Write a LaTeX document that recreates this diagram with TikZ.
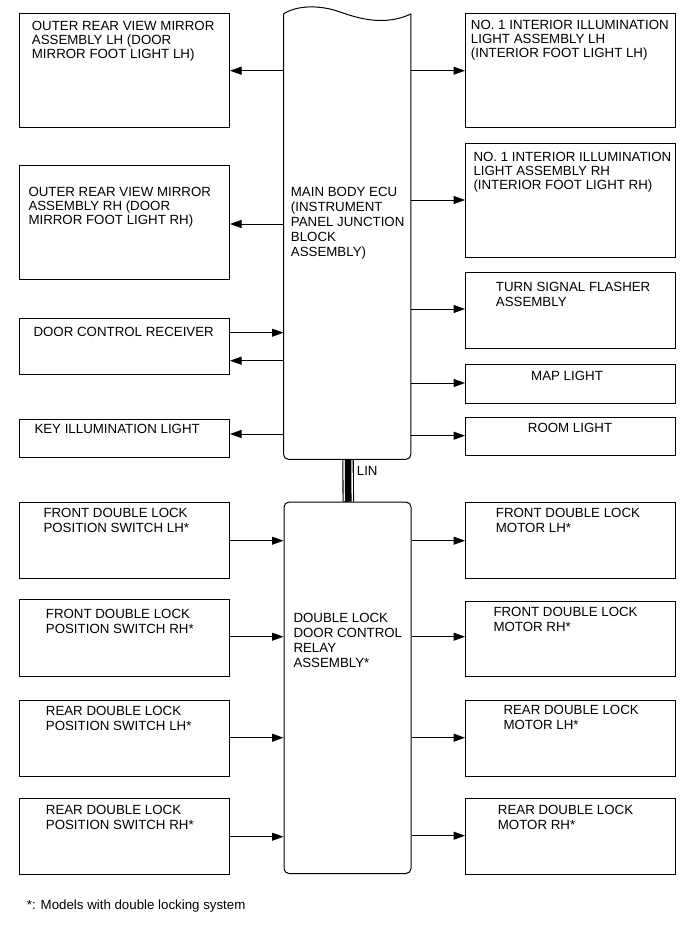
\documentclass[tikz,border=0pt]{standalone}
\usepackage{fontspec}
\setmainfont{Liberation Sans}
\usetikzlibrary{arrows.meta}
\begin{document}
\begin{tikzpicture}[x=1pt,y=-1pt,
  box/.style={draw, line width=1pt, inner sep=0pt, anchor=north west, minimum width=210pt},
  txt/.style={anchor=north west, inner sep=0pt, align=left, font=\fontsize{13.3}{15}\selectfont},
  txtb/.style={txt, font=\fontsize{13.3}{14}\selectfont},
  arr/.style={line width=1pt, -{Triangle[length=11.5pt,width=8pt]}}
]
\useasboundingbox (0,0) rectangle (690,952);

% LIN bus (drawn first so borders stay on top)
\node[inner sep=0pt, minimum width=127pt, minimum height=445pt, anchor=north west] (ecu) at (283.5,14) {};
\node[draw, line width=1pt, rounded corners=5pt, inner sep=0pt, minimum width=127pt, minimum height=371.5pt, anchor=north west] (dldc) at (283.5,501.5) {};
\draw[line width=11.5pt] ([xshift=0.8pt]ecu.south) -- ([xshift=0.8pt]dldc.north);
\draw[line width=9.3pt, white] ([xshift=0.8pt,yshift=-0.6pt]ecu.south) -- ([xshift=0.8pt,yshift=0.6pt]dldc.north);
\draw[line width=6.5pt] ([xshift=0.8pt]ecu.south) -- ([xshift=0.8pt]dldc.north);
\node[txt] (lin) at (356.7,466.5) {LIN};

% main body ECU outline
\draw[line width=1pt, line cap=round] (ecu.north west) .. controls (295,6) and (318,4) .. (340,12) .. controls (360,19) and (385,26) .. (ecu.north east);
\draw[line width=1pt, rounded corners=5pt] (ecu.north east) -- (ecu.south east) -- (ecu.south west) -- (ecu.north west);
\node[txt] (ecut) at (290.7,187.2) {MAIN BODY ECU\\(INSTRUMENT\\PANEL JUNCTION\\BLOCK\\ASSEMBLY)};
\node[txt] (dldct) at (293.3,613.2) {DOUBLE LOCK\\DOOR CONTROL\\RELAY\\ASSEMBLY*};

% left boxes (upper)
\node[box, minimum height=114pt] (l1) at (19,13.3) {};
\node[txtb] (l1t) at (31.7,21) {OUTER REAR VIEW MIRROR\\ASSEMBLY LH (DOOR\\MIRROR FOOT LIGHT LH)};
\node[box, minimum height=114pt] (l2) at (19,165) {};
\node[txtb] (l2t) at (28.3,187) {OUTER REAR VIEW MIRROR\\ASSEMBLY RH (DOOR\\MIRROR FOOT LIGHT RH)};
\node[box, minimum height=56.3pt] (l3) at (19,317.7) {};
\node[txt] (l3t) at (33.3,326.7) {DOOR CONTROL RECEIVER};
\node[box, minimum height=38pt] (l4) at (19,418.7) {};
\node[txt] (l4t) at (34.3,424) {KEY ILLUMINATION LIGHT};

% right boxes (upper)
\node[box, minimum height=114pt] (r1) at (465,13.3) {};
\node[txtb] (r1t) at (470.7,20) {NO. 1 INTERIOR ILLUMINATION\\LIGHT ASSEMBLY LH\\(INTERIOR FOOT LIGHT LH)};
\node[box, minimum height=114pt] (r2) at (465,142.7) {};
\node[txtb] (r2t) at (473.3,151.7) {NO. 1 INTERIOR ILLUMINATION\\LIGHT ASSEMBLY RH\\(INTERIOR FOOT LIGHT RH)};
\node[box, minimum height=76.3pt] (r3) at (465,271.7) {};
\node[txt] (r3t) at (495.7,281.7) {TURN SIGNAL FLASHER\\ASSEMBLY};
\node[box, minimum height=38.7pt] (r4) at (465,364) {};
\node[txt] (r4t) at (531,370.7) {MAP LIGHT};
\node[box, minimum height=38pt] (r5) at (465,417) {};
\node[txt] (r5t) at (527.7,423.3) {ROOM LIGHT};

% left boxes (lower)
\node[box, minimum height=76pt] (ll1) at (19,502.3) {};
\node[txt] (ll1t) at (43.3,508.3) {FRONT DOUBLE LOCK\\POSITION SWITCH LH*};
\node[box, minimum height=76.7pt] (ll2) at (19,599) {};
\node[txt] (ll2t) at (45.7,609) {FRONT DOUBLE LOCK\\POSITION SWITCH RH*};
\node[box, minimum height=76pt] (ll3) at (19,700) {};
\node[txt] (ll3t) at (45.7,706) {REAR DOUBLE LOCK\\POSITION SWITCH LH*};
\node[box, minimum height=76pt] (ll4) at (19,798) {};
\node[txt] (ll4t) at (45.7,805) {REAR DOUBLE LOCK\\POSITION SWITCH RH*};

% right boxes (lower)
\node[box, minimum height=76pt] (rl1) at (465,502) {};
\node[txt] (rl1t) at (495.7,508.3) {FRONT DOUBLE LOCK\\MOTOR LH*};
\node[box, minimum height=75pt] (rl2) at (465,600.7) {};
\node[txt] (rl2t) at (493.3,606.7) {FRONT DOUBLE LOCK\\MOTOR RH*};
\node[box, minimum height=76pt] (rl3) at (465,700) {};
\node[txt] (rl3t) at (503.3,705) {REAR DOUBLE LOCK\\MOTOR LH*};
\node[box, minimum height=76.3pt] (rl4) at (465,797.7) {};
\node[txt] (rl4t) at (497.7,805) {REAR DOUBLE LOCK\\MOTOR RH*};

% connectors ECU
\draw[arr] (ecu.west |- 0,70.7) -- (l1.east |- 0,70.7);
\draw[arr] (ecu.west |- 0,224) -- (l2.east |- 0,224);
\draw[arr] (l3.east |- 0,332.7) -- (ecu.west |- 0,332.7);
\draw[arr] (ecu.west |- 0,360.7) -- (l3.east |- 0,360.7);
\draw[arr] (ecu.west |- 0,434) -- (l4.east |- 0,434);
\draw[arr] (ecu.east |- 0,70.7) -- (r1.west |- 0,70.7);
\draw[arr] (ecu.east |- 0,200) -- (r2.west |- 0,200);
\draw[arr] (ecu.east |- 0,309) -- (r3.west |- 0,309);
\draw[arr] (ecu.east |- 0,383) -- (r4.west |- 0,383);
\draw[arr] (ecu.east |- 0,435.7) -- (r5.west |- 0,435.7);

% connectors relay
\draw[arr] (ll1.east |- 0,540.7) -- (dldc.west |- 0,540.7);
\draw[arr] (ll2.east |- 0,636.7) -- (dldc.west |- 0,636.7);
\draw[arr] (ll3.east |- 0,737.7) -- (dldc.west |- 0,737.7);
\draw[arr] (ll4.east |- 0,836.7) -- (dldc.west |- 0,836.7);
\draw[arr] (dldc.east |- 0,540.7) -- (rl1.west |- 0,540.7);
\draw[arr] (dldc.east |- 0,636.7) -- (rl2.west |- 0,636.7);
\draw[arr] (dldc.east |- 0,737.7) -- (rl3.west |- 0,737.7);
\draw[arr] (dldc.east |- 0,835.7) -- (rl4.west |- 0,835.7);

\node[txt] (note) at (26.7,899.3) {*: Models with double locking system};
\end{tikzpicture}
\end{document}
